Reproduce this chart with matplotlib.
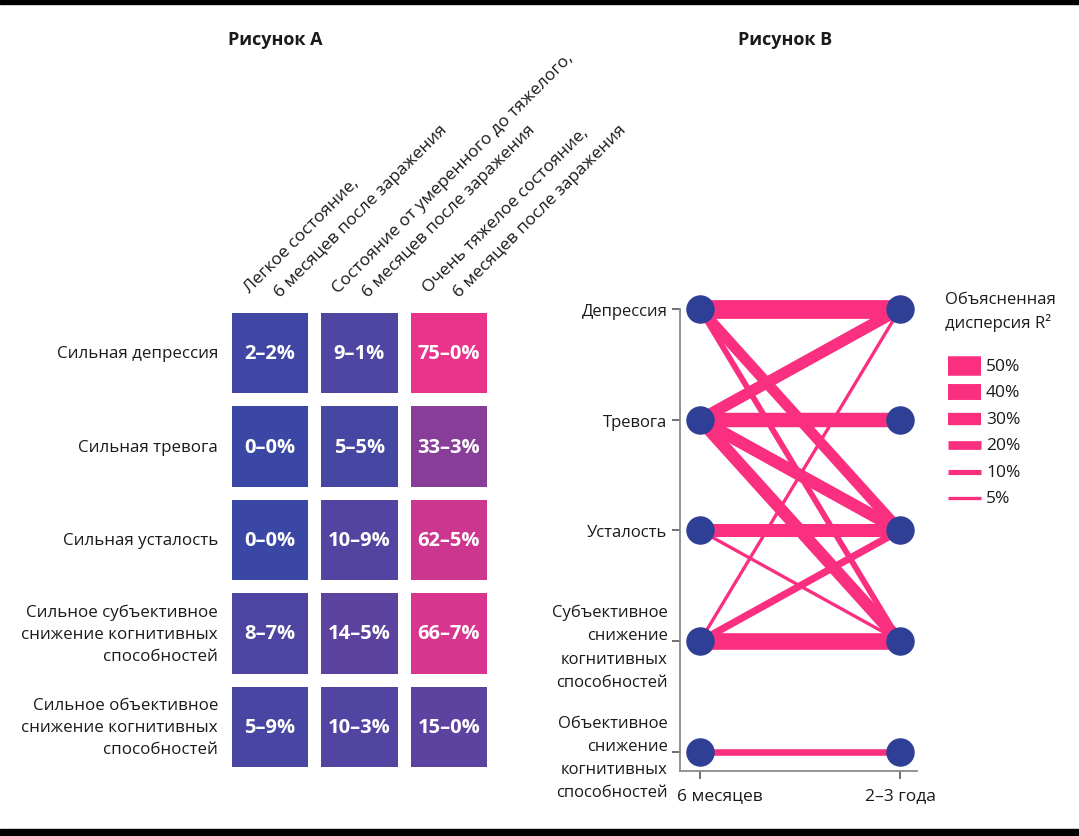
import matplotlib
matplotlib.use('Agg')
import matplotlib.pyplot as plt
from matplotlib.colors import LinearSegmentedColormap, Normalize
from matplotlib.patches import Rectangle
from matplotlib.lines import Line2D

plt.rcParams['font.family'] = ['Open Sans', 'DejaVu Sans']

# ---------------- data ----------------
title_a = "Рисунок А"
title_b = "Рисунок В"

row_labels = [
    "Сильная депрессия",
    "Сильная тревога",
    "Сильная усталость",
    "Сильное субъективное\nснижение когнитивных\nспособностей",
    "Сильное объективное\nснижение когнитивных\nспособностей",
]
col_line1 = ["Легкое состояние,", "Состояние от умеренного до тяжелого,", "Очень тяжелое состояние,"]
col_line2 = ["6 месяцев после заражения", "6 месяцев после заражения", "6 месяцев после заражения"]
cell_values = [
    [2.2, 9.1, 75.0],
    [0.0, 5.5, 33.3],
    [0.0, 10.9, 62.5],
    [8.7, 14.5, 66.7],
    [5.9, 10.3, 15.0],
]

symptoms_b = [
    "Депрессия",
    "Тревога",
    "Усталость",
    "Субъективное\nснижение\nкогнитивных\nспособностей",
    "Объективное\nснижение\nкогнитивных\nспособностей",
]
time_labels = ["6 месяцев", "2–3 года"]
edge_src = [0, 1, 2, 3, 4, 1, 3, 0, 0, 1, 1, 3, 2]
edge_tgt = [0, 1, 2, 3, 4, 0, 0, 2, 3, 2, 3, 2, 3]
edge_r2 = [48, 36, 32, 42, 14, 28, 5, 26, 12, 30, 30, 16, 5]

legend_title = "Объясненная\nдисперсия R²"
legend_r2 = [50, 40, 30, 20, 10, 5]
legend_labels = ["50%", "40%", "30%", "20%", "10%", "5%"]

# ---------------- style ----------------
W, H = 1079, 837
BLUE = "#3a47a5"
PINK = "#ea338b"
NODE = "#2f3f96"
EDGE = "#fa2f80"
TXT = "#1a1a1a"

fig = plt.figure(figsize=(W / 100, H / 100), dpi=100)


def fx(px):
    return px / W


def fy(py):
    return 1 - py / H


def width_pt(r2):
    return (0.36 * r2 + 1.5) * 0.72


# black bands top / bottom
fig.patches.append(Rectangle((0, fy(5)), 1, 1 - fy(5), transform=fig.transFigure,
                             color="black", zorder=0))
fig.patches.append(Rectangle((0, 0), 1, fy(830), transform=fig.transFigure,
                             color="black", zorder=0))

fig.text(fx(275), fy(40), title_a, ha="center", va="center", fontsize=13,
         weight="bold", color=TXT)
fig.text(fx(785), fy(40), title_b, ha="center", va="center", fontsize=13,
         weight="bold", color=TXT)

# ---------------- Panel A ----------------
cw, ch = 0.85, 0.856
axA = fig.add_axes([fx(232), fy(768), fx(487) - fx(232), fy(314) - fy(768)])
axA.set_xlim(0, 2 + cw)
axA.set_ylim(4 + ch, 0)
axA.axis("off")
cmap = LinearSegmentedColormap.from_list("bp", [BLUE, PINK])
norm = Normalize(0, 75)
for i, row in enumerate(cell_values):
    for j, v in enumerate(row):
        axA.add_patch(Rectangle((j, i), cw, ch, facecolor=cmap(norm(v)), edgecolor="none"))
        lab = f"{v:.1f}".replace(".", "–") + "%"
        axA.text(j + cw / 2, i + ch / 2, lab, ha="center", va="center", color="white",
                 fontsize=14.5, weight="bold")
    axA.text(-14 / 89.5, i + ch / 2, row_labels[i], ha="right", va="center",
             multialignment="right", fontsize=12.2, color=TXT, linespacing=1.5)

col_cx = [270, 358, 449]
for j in range(3):
    fig.text(fx(col_cx[j] - 20), fy(294), col_line1[j], rotation=45, rotation_mode="anchor",
             ha="left", va="baseline", fontsize=12.5, color=TXT)
    fig.text(fx(col_cx[j] + 10), fy(298), col_line2[j], rotation=45, rotation_mode="anchor",
             ha="left", va="baseline", fontsize=12.5, color=TXT)

# ---------------- Panel B ----------------
axB = fig.add_axes([fx(680), fy(772), fx(917) - fx(680), fy(310) - fy(772)])
axB.set_xlim(-0.1, 1.085)
axB.set_ylim(-0.1716, 4.0)
for s in ["top", "right"]:
    axB.spines[s].set_visible(False)
for s in ["left", "bottom"]:
    axB.spines[s].set_color("#8a8a8a")
    axB.spines[s].set_linewidth(1.3)
ny = len(symptoms_b)
ypos = [ny - 1 - k for k in range(ny)]
axB.set_yticks(ypos)
axB.set_yticklabels(symptoms_b, fontsize=12, color=TXT, linespacing=1.6)
axB.set_xticks([0, 1])
axB.set_xticklabels(["", ""])
axB.tick_params(axis="both", direction="out", length=6, width=1.3, color="#666666")
axB.tick_params(axis="y", pad=3)

for s, t, r in zip(edge_src, edge_tgt, edge_r2):
    axB.plot([0, 1], [ypos[s], ypos[t]], color=EDGE, lw=width_pt(r),
             solid_capstyle="butt", zorder=2, clip_on=False)
axB.plot([0] * ny, ypos, "o", color=NODE, ms=19.5, zorder=3, clip_on=False)
axB.plot([1] * ny, ypos, "o", color=NODE, ms=19.5, zorder=3, clip_on=False)

fig.text(fx(677), fy(796), time_labels[0], ha="left", va="center", fontsize=12.5, color=TXT)
fig.text(fx(900), fy(796), time_labels[1], ha="center", va="center", fontsize=12.5, color=TXT)

# legend
fig.text(fx(945), fy(292), legend_title, ha="left", va="top", fontsize=12, color=TXT,
         linespacing=1.45)
for k, (r, lab) in enumerate(zip(legend_r2, legend_labels)):
    y = 367 + k * 26.4
    fig.add_artist(Line2D([fx(948), fx(981)], [fy(y), fy(y)], lw=width_pt(r),
                          color=EDGE, solid_capstyle="butt"))
    fig.text(fx(986), fy(y), lab, ha="left", va="center", fontsize=12.5, color=TXT)

fig.savefig("out.png", dpi=100)
